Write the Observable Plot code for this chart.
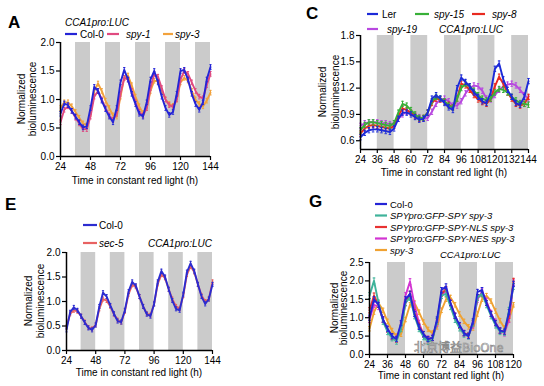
<!DOCTYPE html>
<html><head><meta charset="utf-8">
<script src="https://cdn.jsdelivr.net/npm/d3@7"></script>
<script src="https://cdn.jsdelivr.net/npm/@observablehq/plot@0.6"></script>
<style>
html,body{margin:0;padding:0;background:#fff;}
#root{position:relative;width:544px;height:386px;overflow:hidden;font-family:"Liberation Sans",Arial,sans-serif;}
#root svg.panel{position:absolute;}
#overlay{position:absolute;left:0;top:0;}
</style></head>
<body><div id="root"></div>
<script>
// ---------- DATA ----------
const timeA = d3.range(24, 145, 3);
const timeG = d3.range(24, 121, 3);
const nightStarts = [36, 60, 84, 108, 132];
const nightStartsG = [36, 60, 84, 108];
const ticks144 = [24, 48, 72, 96, 120, 144];
const ticksC = [24, 36, 48, 60, 72, 84, 96, 108, 120, 132, 144];
const ticksG = [24, 36, 48, 60, 72, 84, 96, 108, 120];

// Panel A
const a_col0 = [0.75,0.93,0.90,0.80,0.70,0.60,0.51,0.53,0.85,1.22,1.15,0.98,0.83,0.70,0.60,0.85,1.30,1.52,1.35,1.10,0.92,0.75,0.70,0.95,1.35,1.50,1.30,1.05,0.85,0.73,0.78,1.10,1.50,1.52,1.35,1.10,0.92,0.82,0.95,1.35,1.57];
const a_spy1 = [0.60,0.82,0.88,0.80,0.68,0.58,0.48,0.48,0.70,1.05,1.15,1.00,0.85,0.72,0.64,0.75,1.10,1.38,1.35,1.15,0.95,0.78,0.72,0.85,1.20,1.45,1.40,1.20,1.00,0.90,0.87,1.00,1.35,1.50,1.45,1.30,1.15,1.05,1.02,1.25,1.45];
const a_spy3 = [0.85,0.95,0.95,0.88,0.78,0.68,0.58,0.55,0.75,1.15,1.28,1.15,0.98,0.85,0.72,0.70,1.05,1.38,1.42,1.25,1.05,0.88,0.76,0.85,1.15,1.33,1.32,1.15,1.00,0.92,0.89,1.00,1.30,1.38,1.33,1.15,1.00,0.92,0.88,0.98,1.12];
// Panel C
const c_ler   = [0.64,0.69,0.72,0.73,0.73,0.72,0.71,0.70,0.74,0.85,0.92,0.92,0.90,0.87,0.84,0.85,0.92,1.08,1.12,1.08,1.03,0.98,0.95,1.20,1.32,1.27,1.22,1.15,1.10,1.05,1.03,1.15,1.42,1.48,1.30,1.18,1.10,1.03,1.01,1.10,1.28];
const c_spy15 = [0.72,0.78,0.81,0.81,0.80,0.79,0.78,0.77,0.80,0.92,1.02,1.00,0.95,0.90,0.86,0.86,0.92,1.05,1.10,1.08,1.05,1.00,0.98,1.08,1.20,1.25,1.22,1.17,1.12,1.08,1.06,1.08,1.15,1.19,1.18,1.15,1.10,1.06,1.03,1.02,1.01];
const c_spy8  = [0.68,0.74,0.77,0.78,0.77,0.76,0.75,0.74,0.77,0.88,0.97,0.95,0.92,0.88,0.85,0.86,0.92,1.03,1.08,1.07,1.04,1.01,0.98,1.08,1.25,1.23,1.18,1.12,1.07,1.04,1.02,1.08,1.22,1.33,1.25,1.15,1.08,1.02,1.00,1.02,1.10];
const c_spy19 = [0.77,0.80,0.81,0.81,0.81,0.80,0.80,0.79,0.80,0.85,0.90,0.93,0.92,0.89,0.87,0.85,0.86,0.93,1.02,1.07,1.08,1.05,1.00,1.00,1.05,1.14,1.20,1.23,1.22,1.17,1.08,1.07,1.12,1.18,1.22,1.24,1.25,1.23,1.18,1.12,1.08];
// Panel E
const e_col0 = [0.42,0.78,0.88,0.82,0.70,0.57,0.46,0.42,0.52,0.90,1.18,1.10,0.92,0.75,0.60,0.58,0.82,1.20,1.40,1.32,1.10,0.90,0.74,0.70,0.95,1.40,1.62,1.50,1.25,1.02,0.85,0.82,1.15,1.60,1.78,1.62,1.35,1.10,0.95,1.05,1.35];
const e_sec5 = [0.48,0.75,0.82,0.80,0.70,0.58,0.47,0.44,0.52,0.85,1.05,1.02,0.90,0.74,0.62,0.58,0.80,1.15,1.34,1.30,1.10,0.90,0.75,0.72,0.95,1.36,1.55,1.48,1.25,1.05,0.90,0.85,1.12,1.55,1.72,1.60,1.35,1.12,1.00,1.05,1.40];
// Panel G
const g_col0 = [1.00,1.50,1.35,0.95,0.70,0.50,0.42,0.85,1.50,1.65,1.10,0.75,0.55,0.42,0.45,0.95,1.75,1.85,1.40,1.05,0.80,0.58,0.50,0.90,1.70,1.75,1.40,1.10,0.85,0.65,0.62,1.15,1.92];
const g_gfp  = [1.60,2.00,1.40,0.90,0.62,0.45,0.36,0.70,1.40,1.55,1.05,0.70,0.48,0.35,0.40,0.90,1.60,1.65,1.30,0.95,0.72,0.55,0.50,0.85,1.55,1.65,1.35,1.05,0.80,0.62,0.60,1.20,1.85];
const g_nls  = [1.20,1.60,1.35,0.95,0.68,0.48,0.40,0.75,1.40,1.65,1.15,0.78,0.55,0.42,0.45,0.90,1.65,1.78,1.40,1.05,0.78,0.58,0.52,0.85,1.55,1.65,1.40,1.10,0.85,0.65,0.62,1.05,2.00];
const g_nes  = [0.95,1.35,1.30,0.95,0.68,0.48,0.42,0.80,1.60,1.98,1.35,0.85,0.55,0.42,0.45,0.85,1.60,1.75,1.40,1.05,0.78,0.58,0.52,0.80,1.50,1.70,1.45,1.12,0.88,0.65,0.58,0.95,1.95];
const g_spy3 = [0.70,1.15,1.40,1.20,0.90,0.65,0.50,0.55,0.95,1.35,1.40,1.15,0.88,0.68,0.58,0.75,1.20,1.50,1.55,1.35,1.10,0.90,0.75,0.72,1.10,1.50,1.60,1.45,1.18,0.92,0.72,0.95,1.35];

// Error (SEM) per series
const semA = [0.04, 0.04, 0.04];
const semC = [0.03, 0.03, 0.03, 0.03];
const semE = [0.04, 0.04];
const semG = [0.07, 0.08, 0.07, 0.08, 0.06];

// ---------- DRAW ----------
const root = document.getElementById("root");
const FONT = '"Liberation Sans", Arial, sans-serif';
const BAND = "#cbcbcb";

function rows(time, vals, sem) {
  return vals.map((v, i) => ({t: time[i], v, e: sem}));
}

function panel(o) {
  const marks = [
    Plot.rect(o.nights, {x1: d => d, x2: d => d + 12, y1: o.yDomain[0], y2: o.yDomain[1], fill: BAND}),
  ];
  for (let k = o.series.length - 1; k >= 0; k--) {
    const s = o.series[k];
    const data = rows(o.time, s.values, s.sem);
    marks.push(Plot.ruleX(data, {x: "t", y1: d => d.v - d.e, y2: d => d.v + d.e, stroke: s.color, strokeWidth: 1}));
    marks.push(Plot.link(data, {x1: d => d.t - 0.9, x2: d => d.t + 0.9, y1: d => d.v + d.e, y2: d => d.v + d.e, stroke: s.color, strokeWidth: 1}));
    marks.push(Plot.link(data, {x1: d => d.t - 0.9, x2: d => d.t + 0.9, y1: d => d.v - d.e, y2: d => d.v - d.e, stroke: s.color, strokeWidth: 1}));
    marks.push(Plot.line(data, {x: "t", y: "v", stroke: s.color, strokeWidth: 1.9}));
  }
  marks.push(Plot.ruleY([o.yDomain[0]], {stroke: "#000", strokeWidth: 1.5}));
  marks.push(Plot.ruleX([o.xDomain[0]], {stroke: "#000", strokeWidth: 1.5}));
  marks.push(Plot.axisX({ticks: o.xTicks, tickSize: 4, tickPadding: 2, tickFormat: d => String(d), label: null, stroke: "#000", strokeWidth: 1.2}));
  marks.push(Plot.axisY({ticks: o.yTicks, tickSize: 4, tickPadding: 2, tickFormat: d3.format(".1f"), label: null, stroke: "#000", strokeWidth: 1.2}));
  const svg = Plot.plot({
    width: o.w, height: o.h,
    marginLeft: o.m[0], marginRight: o.m[1], marginTop: o.m[2], marginBottom: o.m[3],
    x: {domain: o.xDomain},
    y: {domain: o.yDomain},
    style: {fontFamily: FONT, fontSize: "10px", color: "#000", background: "transparent", overflow: "visible"},
    marks
  });
  svg.classList.add("panel");
  svg.style.left = o.left + "px";
  svg.style.top = o.top + "px";
  root.appendChild(svg);
}

panel({
  left: 0, top: 0, w: 272, h: 193, m: [60, 62, 42, 37],
  xDomain: [24, 144], yDomain: [0, 2], xTicks: ticks144, yTicks: [0, 0.5, 1, 1.5, 2],
  nights: nightStarts, time: timeA,
  series: [
    {values: a_col0, color: "#2424d6", sem: semA[0]},
    {values: a_spy1, color: "#e04a80", sem: semA[1]},
    {values: a_spy3, color: "#f2a23c", sem: semA[2]}
  ]
});
panel({
  left: 272, top: 0, w: 272, h: 193, m: [88, 16, 35, 44],
  xDomain: [24, 144], yDomain: [0.5, 1.8], xTicks: ticksC, yTicks: [0.6, 0.9, 1.2, 1.5, 1.8],
  nights: nightStarts, time: timeA,
  series: [
    {values: c_ler, color: "#1c2ad8", sem: semC[0]},
    {values: c_spy15, color: "#38b038", sem: semC[1]},
    {values: c_spy8, color: "#e82a20", sem: semC[2]},
    {values: c_spy19, color: "#b848e0", sem: semC[3]}
  ]
});
panel({
  left: 0, top: 193, w: 272, h: 193, m: [66, 60, 59, 36],
  xDomain: [24, 144], yDomain: [0, 2], xTicks: ticks144, yTicks: [0, 0.5, 1, 1.5, 2],
  nights: nightStarts, time: timeA,
  series: [
    {values: e_col0, color: "#2c2cd0", sem: semE[0]},
    {values: e_sec5, color: "#e86262", sem: semE[1]}
  ]
});
panel({
  left: 272, top: 193, w: 272, h: 193, m: [97, 31, 69, 32],
  xDomain: [24, 120], yDomain: [0, 2.5], xTicks: ticksG, yTicks: [0, 0.5, 1, 1.5, 2, 2.5],
  nights: nightStartsG, time: timeG,
  series: [
    {values: g_col0, color: "#2424d6", sem: semG[0]},
    {values: g_gfp, color: "#3fb39a", sem: semG[1]},
    {values: g_nls, color: "#e83232", sem: semG[2]},
    {values: g_nes, color: "#d234d2", sem: semG[3]},
    {values: g_spy3, color: "#f0a232", sem: semG[4]}
  ]
});

// ---------- OVERLAY TEXT / LEGENDS ----------
const ov = d3.select(root).append("svg").attr("id", "overlay").attr("width", 544).attr("height", 386)
  .style("font-family", FONT);
function txt(x, y, s, opt = {}) {
  const t = ov.append("text").attr("x", x).attr("y", y).text(s)
    .attr("font-size", opt.size || 10)
    .attr("font-weight", opt.weight || "normal")
    .attr("font-style", opt.italic ? "italic" : "normal")
    .attr("text-anchor", opt.anchor || "start")
    .attr("dominant-baseline", "central")
    .attr("fill", opt.fill || "#000");
  if (opt.rotate) t.attr("transform", `rotate(-90,${x},${y})`).attr("text-anchor", "middle");
  return t;
}
function seg(x1, x2, y, c) {
  ov.append("line").attr("x1", x1).attr("x2", x2).attr("y1", y).attr("y2", y).attr("stroke", c).attr("stroke-width", 2.2);
}
function ytitle(x1, x2, y) {
  txt(x1, y, "Normalized", {rotate: true});
  txt(x2, y, "bioluminescence", {rotate: true});
}

// A
txt(8, 22, "A", {size: 17, weight: "bold"});
txt(65, 22, "CCA1pro:LUC", {italic: true});
seg(65, 77, 34, "#2424d6"); txt(80, 34, "Col-0");
seg(107, 119, 34, "#e04a80"); txt(126, 34, "spy-1", {italic: true});
seg(163, 173, 34, "#f2a23c"); txt(175, 34, "spy-3", {italic: true});
ytitle(21, 32, 99);
txt(135, 180, "Time in constant red light (h)", {anchor: "middle"});

// C
txt(306, 13, "C", {size: 17, weight: "bold"});
seg(367, 378, 14, "#1c2ad8"); txt(382, 14, "Ler");
seg(415, 429, 14, "#38b038"); txt(434, 14, "spy-15", {italic: true});
seg(472, 485, 14, "#e82a20"); txt(492, 14, "spy-8", {italic: true});
seg(367, 378, 29, "#b848e0"); txt(387, 29, "spy-19", {italic: true});
txt(439, 29, "CCA1pro:LUC", {italic: true});
ytitle(322, 335, 92);
txt(444, 172, "Time in constant red light (h)", {anchor: "middle"});

// E
txt(5, 204, "E", {size: 17, weight: "bold"});
seg(83, 97, 225, "#2c2cd0"); txt(99, 225, "Col-0");
seg(83, 97, 243, "#e86262"); txt(99, 243, "sec-5", {italic: true});
txt(148, 243, "CCA1pro:LUC", {italic: true});
ytitle(28, 40, 301);
txt(139, 372, "Time in constant red light (h)", {anchor: "middle"});

// G
txt(309, 201, "G", {size: 17, weight: "bold"});
const gLeg = [
  ["Col-0", "#2424d6", false],
  ["SPYpro:GFP-SPY spy-3", "#3fb39a", true],
  ["SPYpro:GFP-SPY-NLS spy-3", "#e83232", true],
  ["SPYpro:GFP-SPY-NES spy-3", "#d234d2", true],
  ["spy-3", "#f0a232", true]
];
const gRowY = [204, 215.5, 227, 238.5, 250];
gLeg.forEach((g, i) => { seg(375, 387, gRowY[i], g[1]); txt(390, gRowY[i], g[0], {italic: g[2], size: 9.5}); });
txt(440, 254, "CCA1pro:LUC", {italic: true, size: 9.5});
ytitle(334, 343, 308);
txt(441, 375, "Time in constant red light (h)", {anchor: "middle"});

// watermark (kept clear of the tick labels)
txt(414, 346, "北京博益BioOne", {size: 12, fill: "#fff"})
  .attr("font-family", '"Noto Sans CJK SC", sans-serif')
  .attr("stroke", "#8a8a8a").attr("stroke-width", 0.7);
</script></body></html>
